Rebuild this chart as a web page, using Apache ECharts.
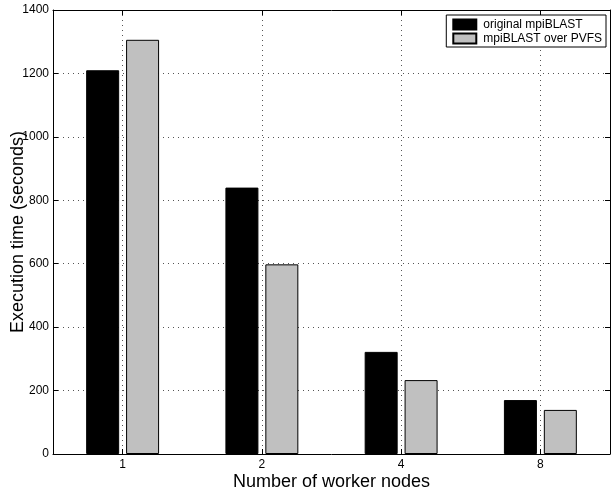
<!DOCTYPE html>
<html>
<head>
<meta charset="utf-8">
<script src="https://cdn.jsdelivr.net/npm/echarts@6/dist/echarts.min.js"></script>
<style>html,body{margin:0;padding:0;background:#fff}#c{width:613px;height:493px}</style>
</head>
<body>
<div id="c"></div>
<script>
const categories = ['1', '2', '4', '8'];
const originalValues = [1210, 840, 322, 170];
const pvfsValues = [1306, 598, 233, 139];
const seriesNames = ['original mpiBLAST', 'mpiBLAST over PVFS'];
const yTicks = [0, 200, 400, 600, 800, 1000, 1200, 1400];

const FONT = 'Liberation Sans, Arial, Helvetica, sans-serif';
const chart = echarts.init(document.getElementById('c'), null, {renderer: 'canvas'});
const dotted = {show: true, lineStyle: {color: '#555', type: [1, 4], width: 1}};
chart.setOption({
  animation: false,
  textStyle: {fontFamily: FONT},
  grid: {left: 53, right: 3, top: 10, bottom: 39, containLabel: false, outerBoundsMode: 'none'},
  legend: {
    orient: 'vertical', right: 7, top: 15,
    backgroundColor: '#fff', borderColor: '#000', borderWidth: 1,
    padding: [3, 4, 2, 6], itemGap: 1, itemWidth: 23, itemHeight: 10,
    icon: 'rect',
    textStyle: {fontFamily: FONT, fontSize: 12, color: '#000', lineHeight: 13, padding: [0, 0, 0, 2]},
    data: seriesNames
  },
  xAxis: [{
    type: 'category', data: categories, position: 'bottom',
    axisLine: {show: true, onZero: false, lineStyle: {color: '#000', width: 1}},
    axisTick: {show: true, inside: true, alignWithLabel: true, length: 5, lineStyle: {color: '#000'}},
    axisLabel: {color: '#000', fontSize: 12, margin: 5, fontFamily: FONT},
    splitLine: Object.assign({alignWithLabel: true}, dotted),
    name: 'Number of worker nodes', nameLocation: 'middle', nameGap: 19, nameMoveOverlap: false,
    nameTextStyle: {fontSize: 18, color: '#000', fontFamily: FONT}
  }, {
    type: 'category', data: categories, position: 'top',
    axisLine: {show: true, onZero: false, lineStyle: {color: '#000', width: 1}},
    axisTick: {show: true, inside: true, alignWithLabel: true, length: 5, lineStyle: {color: '#000'}},
    axisLabel: {show: false}, splitLine: {show: false}
  }],
  yAxis: [{
    type: 'value', min: 0, max: 1400, interval: 200, position: 'left',
    axisLine: {show: true, lineStyle: {color: '#000', width: 1}},
    axisTick: {show: true, inside: true, length: 5, lineStyle: {color: '#000'}},
    axisLabel: {color: '#000', fontSize: 12, margin: 4, fontFamily: FONT,
      formatter: v => yTicks.includes(v) ? String(v) : ''},
    splitLine: dotted,
    name: 'Execution time (seconds)', nameLocation: 'middle', nameGap: 26, nameMoveOverlap: false,
    nameTextStyle: {fontSize: 18, color: '#000', fontFamily: FONT}
  }, {
    type: 'value', min: 0, max: 1400, interval: 200, position: 'right',
    axisLine: {show: true, lineStyle: {color: '#000', width: 1}},
    axisTick: {show: true, inside: true, length: 5, lineStyle: {color: '#000'}},
    axisLabel: {show: false}, splitLine: {show: false}
  }],
  series: [{
    name: seriesNames[0], type: 'bar', data: originalValues,
    barWidth: 33, barGap: '21%',
    itemStyle: {color: '#000', borderColor: '#000', borderWidth: 1}
  }, {
    name: seriesNames[1], type: 'bar', data: pvfsValues,
    barWidth: 33, barGap: '21%',
    itemStyle: {color: '#c0c0c0', borderColor: '#000', borderWidth: 1}
  }]
});
</script>
</body>
</html>
